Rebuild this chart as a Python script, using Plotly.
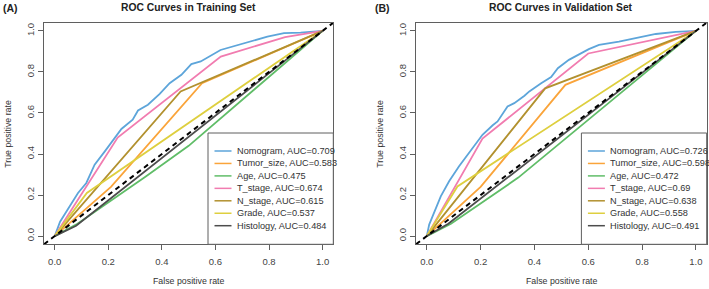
import plotly.graph_objects as go

W, H = 709, 289

models = ["Nomogram", "Tumor_size", "Age", "T_stage", "N_stage", "Grade", "Histology"]
colors = ["#5DA5DA", "#FAA43A", "#60BD68", "#F17CB0", "#B2912F", "#DECF3F", "#4D4D4D"]
train_auc = [0.709, 0.583, 0.475, 0.674, 0.615, 0.537, 0.484]
valid_auc = [0.726, 0.598, 0.472, 0.69, 0.638, 0.558, 0.491]

axis_range = [-0.04, 1.04]
tick_vals = [0.0, 0.2, 0.4, 0.6, 0.8, 1.0]
tick_text = ["0.0", "0.2", "0.4", "0.6", "0.8", "1.0"]

# ---- Training set ROC curves (FPR, TPR) ----
train_nomogram_fpr = [0, 0.02, 0.056, 0.087, 0.118, 0.149, 0.187, 0.224, 0.249, 0.291, 0.311, 0.348,
                      0.392, 0.429, 0.473, 0.510, 0.545, 0.619, 0.719, 0.794, 0.856, 0.918, 1.0]
train_nomogram_tpr = [0, 0.07, 0.145, 0.210, 0.259, 0.348, 0.413, 0.478, 0.522, 0.567, 0.612, 0.640,
                      0.693, 0.745, 0.786, 0.838, 0.851, 0.907, 0.943, 0.972, 0.989, 0.992, 1.0]
train_tumor_fpr = [0, 0.21, 0.55, 1]
train_tumor_tpr = [0, 0.24, 0.745, 1]
train_age_fpr = [0, 0.085, 0.34, 0.5, 1]
train_age_tpr = [0, 0.06, 0.29, 0.44, 1]
train_tstage_fpr = [0, 0.235, 0.62, 0.86, 1]
train_tstage_tpr = [0, 0.48, 0.875, 0.97, 1]
train_nstage_fpr = [0, 0.47, 1]
train_nstage_tpr = [0, 0.705, 1]
train_grade_fpr = [0, 0.12, 1]
train_grade_tpr = [0, 0.21, 1]
train_hist_fpr = [0, 0.08, 1]
train_hist_tpr = [0, 0.05, 1]

# ---- Validation set ROC curves ----
valid_nomogram_fpr = [0, 0.009, 0.052, 0.083, 0.120, 0.164, 0.207, 0.245, 0.263, 0.300, 0.325, 0.363,
                      0.381, 0.425, 0.462, 0.487, 0.512, 0.528, 0.602, 0.640, 0.714, 0.776, 0.851, 0.925, 1.0]
valid_nomogram_tpr = [0, 0.056, 0.194, 0.267, 0.340, 0.421, 0.494, 0.540, 0.559, 0.632, 0.648, 0.684,
                      0.705, 0.745, 0.775, 0.818, 0.843, 0.859, 0.911, 0.932, 0.948, 0.964, 0.985, 0.995, 1.0]
valid_tumor_fpr = [0, 0.20, 0.515, 1]
valid_tumor_tpr = [0, 0.24, 0.737, 1]
valid_age_fpr = [0, 0.09, 0.34, 1]
valid_age_tpr = [0, 0.06, 0.285, 1]
valid_tstage_fpr = [0, 0.207, 0.60, 1]
valid_tstage_tpr = [0, 0.475, 0.89, 1]
valid_nstage_fpr = [0, 0.44, 1]
valid_nstage_tpr = [0, 0.72, 1]
valid_grade_fpr = [0, 0.114, 1]
valid_grade_tpr = [0, 0.242, 1]
valid_hist_fpr = [0, 0.08, 1]
valid_hist_tpr = [0, 0.06, 1]

train_curves = [(train_nomogram_fpr, train_nomogram_tpr), (train_tumor_fpr, train_tumor_tpr),
                (train_age_fpr, train_age_tpr), (train_tstage_fpr, train_tstage_tpr),
                (train_nstage_fpr, train_nstage_tpr), (train_grade_fpr, train_grade_tpr),
                (train_hist_fpr, train_hist_tpr)]
valid_curves = [(valid_nomogram_fpr, valid_nomogram_tpr), (valid_tumor_fpr, valid_tumor_tpr),
                (valid_age_fpr, valid_age_tpr), (valid_tstage_fpr, valid_tstage_tpr),
                (valid_nstage_fpr, valid_nstage_tpr), (valid_grade_fpr, valid_grade_tpr),
                (valid_hist_fpr, valid_hist_tpr)]

panels = [
    dict(curves=train_curves, auc=train_auc, title="ROC Curves in Training Set", tag="(A)",
         box=(44, 333.3), xa="x", ya="y", xname="xaxis", yname="yaxis"),
    dict(curves=valid_curves, auc=valid_auc, title="ROC Curves in Validation Set", tag="(B)",
         box=(416, 706.7), xa="x2", ya="y2", xname="xaxis2", yname="yaxis2"),
]
box_top, box_bot = 22.7, 244.3

def px(x):
    return x / W

def py(y):
    return 1 - y / H

FONT = "Liberation Sans, Arial, sans-serif"
FRAME = "#5f5f5f"

fig = go.Figure()
annotations = []
shapes = []
layout_axes = {}

for p in panels:
    for (fpr, tpr), col, name in zip(p["curves"], colors, models):
        fig.add_trace(go.Scatter(x=fpr, y=tpr, mode="lines", name=name,
                                 line=dict(color=col, width=1.8),
                                 xaxis=p["xa"], yaxis=p["ya"], showlegend=False, hoverinfo="skip"))
    # reference diagonal across the whole plotting region
    fig.add_trace(go.Scatter(x=axis_range, y=axis_range, mode="lines",
                             line=dict(color="black", width=2, dash="5px,4px"),
                             xaxis=p["xa"], yaxis=p["ya"], showlegend=False, hoverinfo="skip"))

    x0, x1 = p["box"]
    common = dict(range=axis_range, showgrid=False, zeroline=False, showline=True, mirror=True,
                  linecolor=FRAME, linewidth=1, ticks="outside", ticklen=5, tickcolor=FRAME,
                  tickvals=tick_vals, ticktext=tick_text,
                  tickfont=dict(family=FONT, size=9.5, color="#444444"), fixedrange=True)
    layout_axes[p["xname"]] = dict(common, domain=[px(x0), px(x1)],
                                   anchor=p["ya"], ticklabelstandoff=3)
    layout_axes[p["yname"]] = dict(common, domain=[py(box_bot), py(box_top)],
                                   anchor=p["xa"], tickangle=-90)

    cx = (x0 + x1) / 2
    annotations.append(dict(text="<b>" + p["title"] + "</b>", x=px(cx), y=py(8), xref="paper", yref="paper",
                            showarrow=False, xanchor="center", yanchor="middle",
                            font=dict(family=FONT, size=10.3, color="#222222")))
    annotations.append(dict(text="<b>" + p["tag"] + "</b>", x=px(x0 - 34), y=py(8), xref="paper", yref="paper",
                            showarrow=False, xanchor="center", yanchor="middle",
                            font=dict(family=FONT, size=10.5, color="#222222")))
    annotations.append(dict(text="False positive rate", x=px(cx), y=py(281), xref="paper", yref="paper",
                            showarrow=False, xanchor="center", yanchor="middle",
                            font=dict(family=FONT, size=8.8, color="#333333")))
    annotations.append(dict(text="True positive rate", x=px(x0 - 36.7), y=py((box_top + box_bot) / 2),
                            xref="paper", yref="paper", textangle=-90,
                            showarrow=False, xanchor="center", yanchor="middle",
                            font=dict(family=FONT, size=8.8, color="#333333")))

    # legend box
    lx0, ly0 = x1 - 125.3, 133
    shapes.append(dict(type="rect", xref="paper", yref="paper", x0=px(lx0), x1=px(x1),
                       y0=py(box_bot), y1=py(ly0), fillcolor="white",
                       line=dict(color=FRAME, width=1), layer="above"))
    for i, (name, col, a) in enumerate(zip(models, colors, p["auc"])):
        yy = 151 + i * 12.45
        shapes.append(dict(type="line", xref="paper", yref="paper", x0=px(lx0 + 6.5), x1=px(lx0 + 23.5),
                           y0=py(yy), y1=py(yy), line=dict(color=col, width=1.5), layer="above"))
        annotations.append(dict(text=f"{name}, AUC={a}", x=px(lx0 + 26.5), y=py(yy),
                                xref="paper", yref="paper", showarrow=False,
                                xanchor="left", yanchor="middle",
                                font=dict(family=FONT, size=9.2, color="#333333")))

fig.update_layout(width=W, height=H, margin=dict(l=0, r=0, t=0, b=0),
                  paper_bgcolor="white", plot_bgcolor="white",
                  annotations=annotations, shapes=shapes, **layout_axes)

fig.write_html("out.html", config={"displayModeBar": False},
               post_script="document.body.style.margin='0';document.body.style.overflow='hidden';")
